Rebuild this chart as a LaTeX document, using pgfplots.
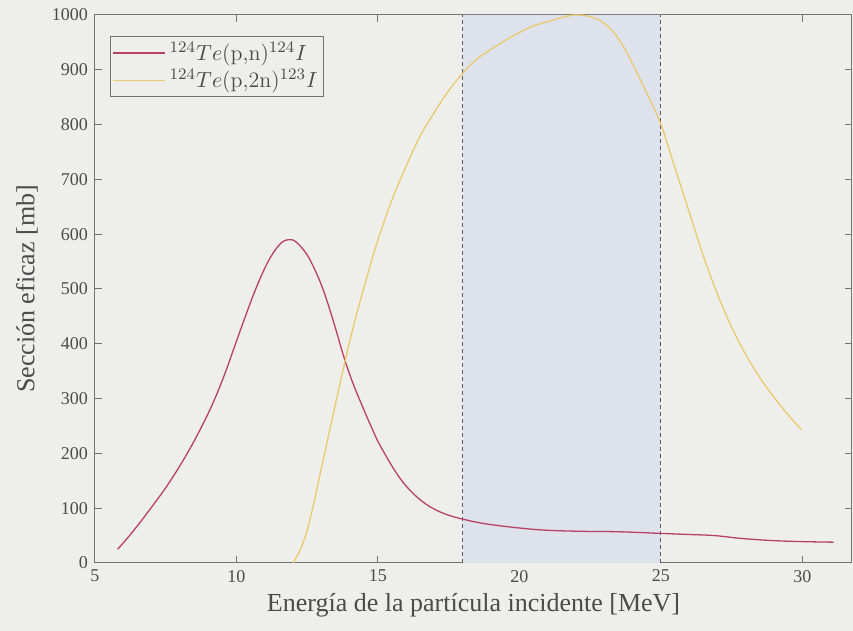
\documentclass[border=0pt]{standalone}
\usepackage{fontspec}
\usepackage{pgfplots}
\pgfplotsset{compat=1.18}
\usetikzlibrary{backgrounds}
\newfontfamily\timesfont{Liberation Serif}

\definecolor{bg}{RGB}{238,238,235}
\definecolor{band}{RGB}{221,226,236}
\definecolor{pnred}{RGB}{183,66,102}
\definecolor{pnyel}{RGB}{234,202,112}
\definecolor{axgray}{RGB}{115,115,115}
\definecolor{txt}{RGB}{75,75,75}

\begin{document}
\begin{tikzpicture}
\path[use as bounding box] (-47.5pt,-34pt) rectangle (379pt,281.5pt);
\begin{axis}[
  name=main,
  scale only axis, width=378.5pt, height=274pt,
  xmin=5, xmax=31.75, ymin=0, ymax=1000,
  xtick={5,10,...,30}, ytick={0,100,...,1000},
  tick align=inside, major tick length=3.5pt,
  axis line style={axgray, line width=0.5pt},
  tick style={axgray, line width=0.5pt},
  /pgf/number format/assume math mode=true,
  /pgf/number format/1000 sep={},
  ticklabel style={font=\timesfont\fontsize{9}{10}\selectfont, text=txt},
  xlabel={Energía de la partícula incidente [MeV]},
  ylabel={Sección eficaz [mb]},
  label style={font=\timesfont\fontsize{13}{15}\selectfont, text=txt},
  xlabel style={at={(axis description cs:0.5,-0.0766)}, anchor=center},
  ylabel style={at={(axis description cs:-0.09,0.5)}, anchor=center},
  legend style={at={(axis description cs:0.0198,0.9617)}, anchor=north west,
    draw=axgray, fill=bg, font=\fontsize{11}{13}\selectfont, text=txt,
    inner sep=1pt, row sep=-1pt},
  legend cell align=left,
  legend image code/.code={\draw[#1] (0pt,0pt) -- (26pt,0pt);},
]
% energy window 18--25 MeV
\addplot[draw=none, fill=band, forget plot] coordinates {(18,0) (18,1000) (25,1000) (25,0)} \closedcycle;
\addplot[dash pattern=on 2pt off 1.5pt, color=axgray!80!black, line width=0.5pt, forget plot] coordinates {(18,0) (18,1000)};
\addplot[dash pattern=on 2pt off 1.5pt, color=axgray!80!black, line width=0.5pt, forget plot] coordinates {(25,0) (25,1000)};

% 124Te(p,n)124I
\addplot[pnred, line width=0.65pt, smooth, tension=0.6] coordinates {
 (5.8,25) (6.3,55) (6.9,95) (7.6,145) (8.26,200) (8.8,252) (9.22,298)
 (9.6,347) (10.0,405) (10.3,448) (10.64,495) (11.0,538) (11.3,566)
 (11.6,585) (11.85,590) (12.1,586) (12.5,562) (12.9,520) (13.2,478)
 (13.5,428) (13.8,375) (14.1,330) (14.4,292) (14.75,250) (15.1,212)
 (15.8,153) (16.5,115) (17.2,93) (18.0,80) (19.0,70) (20.6,61) (22.0,58)
 (23.5,57) (25.0,54) (26.0,52) (26.9,50) (27.8,45) (28.9,41) (30.0,39)
 (31.1,38)
};
\addlegendentry{$^{124}Te$(p,n)$^{124}I$}

% 124Te(p,2n)123I
\addplot[pnyel, line width=0.65pt, smooth, tension=0.6] coordinates {
 (12.0,0) (12.3,30) (12.6,80) (13.14,206) (13.79,358) (14.2,445)
 (14.61,522) (15.0,590) (15.49,662) (16.0,725) (16.5,780) (17.0,823)
 (17.5,862) (18.0,894) (18.5,920) (19.32,948) (20.0,968) (20.49,980)
 (21.0,988) (21.7,998) (22.1,1000) (22.5,997) (22.9,988) (23.3,970)
 (23.7,940) (24.1,900) (24.55,852) (25.0,800) (25.5,720)
 (26.0,640) (26.5,560) (27.0,490) (27.5,430) (28.0,380) (28.5,338)
 (29.0,302) (29.5,270) (29.97,243)
};
\addlegendentry{$^{124}Te$(p,2n)$^{123}I$}
\end{axis}
\begin{scope}[on background layer]
  \fill[bg] (-47.5pt,-34pt) rectangle (379pt,281.5pt);
\end{scope}
\end{tikzpicture}
\end{document}
